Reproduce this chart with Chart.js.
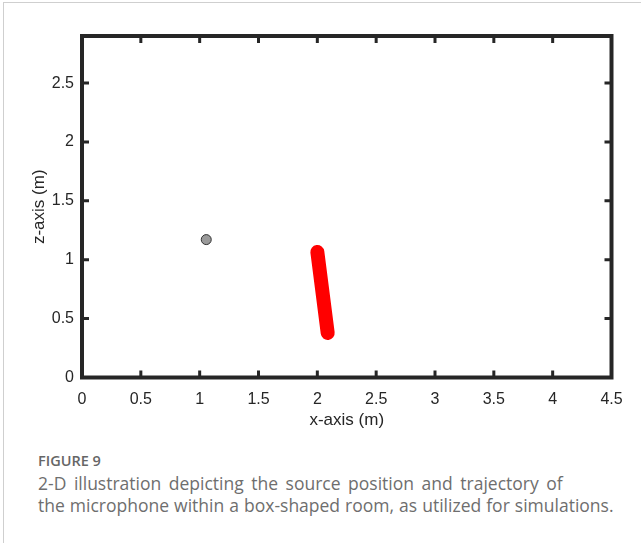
<!DOCTYPE html>
<html>
<head>
<meta charset="utf-8">
<script src="https://cdn.jsdelivr.net/npm/chart.js@4.4.1/dist/chart.umd.min.js"></script>
<style>
  body { margin: 0; background: #fff; width: 641px; height: 543px; overflow: hidden; position: relative; }
  #frame { position: absolute; left: 3px; top: 2px; width: 700px; height: 600px;
    border-top: 1px solid #cfcfcf; border-left: 1px solid #cfcfcf; }
  #wrap { position: absolute; left: 0; top: 0; width: 641px; height: 440px; }
  .cap { position: absolute; left: 38px; font-family: "Open Sans", sans-serif; color: #6e6e6e; white-space: nowrap; }
  #figno { top: 451px; font-size: 14.5px; font-weight: 600; color: #666; }
  #line1 { top: 471px; font-size: 17.5px; word-spacing: 3px; }
  #line2 { top: 493px; font-size: 17.5px; word-spacing: 0.5px; }
</style>
</head>
<body>
<div id="frame"></div>
<div id="wrap"><canvas id="roomChart" width="641" height="440"></canvas></div>
<div class="cap" id="figno">FIGURE 9</div>
<div class="cap" id="line1">2-D illustration depicting the source position and trajectory of</div>
<div class="cap" id="line2">the microphone within a box-shaped room, as utilized for simulations.</div>
<script>
// room limits (m)
const xRange = [0, 4.5];
const zRange = [0, 2.9];
const xTicks = [0, 0.5, 1, 1.5, 2, 2.5, 3, 3.5, 4, 4.5];
const zTicks = [0, 0.5, 1, 1.5, 2, 2.5];

// microphone trajectory (start / end) and source position
const trajX = [2.0, 2.088];
const trajZ = [1.066, 0.378];
const sourceX = [1.056];
const sourceZ = [1.171];

const ink = '#262626';
const tickFont = { family: 'Liberation Sans, Arial, sans-serif', size: 16 };
const titleFont = { family: 'Liberation Sans, Arial, sans-serif', size: 17 };

function toPoints(xs, ys) {
  return xs.map((x, i) => ({ x: x, y: ys[i] }));
}

// box around the plot with inward ticks on all four sides
const boxFrame = {
  id: 'boxFrame',
  afterDraw(chart) {
    const { ctx, chartArea: a, scales } = chart;
    ctx.save();
    ctx.strokeStyle = ink;
    ctx.lineWidth = 3;
    xTicks.forEach((v) => {
      const px = scales.x.getPixelForValue(v);
      ctx.beginPath();
      ctx.moveTo(px, a.bottom); ctx.lineTo(px, a.bottom - 7);
      ctx.moveTo(px, a.top); ctx.lineTo(px, a.top + 7);
      ctx.stroke();
    });
    zTicks.forEach((v) => {
      const py = scales.y.getPixelForValue(v);
      ctx.beginPath();
      ctx.moveTo(a.left, py); ctx.lineTo(a.left + 7, py);
      ctx.moveTo(a.right, py); ctx.lineTo(a.right - 7, py);
      ctx.stroke();
    });
    ctx.lineWidth = 4;
    ctx.strokeRect(a.left, a.top, a.right - a.left, a.bottom - a.top);
    ctx.restore();
  }
};

new Chart('roomChart', {
  type: 'scatter',
  data: {
    datasets: [
      {
        label: 'trajectory',
        data: toPoints(trajX, trajZ),
        showLine: true,
        borderColor: '#ff0000',
        backgroundColor: '#ff0000',
        borderWidth: 14,
        borderCapStyle: 'round',
        pointRadius: 0
      },
      {
        label: 'source',
        data: toPoints(sourceX, sourceZ),
        pointRadius: 5,
        backgroundColor: '#9a9a9a',
        borderColor: '#333',
        borderWidth: 1
      }
    ]
  },
  options: {
    responsive: false,
    animation: false,
    devicePixelRatio: 1,
    layout: { padding: { top: 36, right: 29.5, left: 0, bottom: 0 } },
    plugins: { legend: { display: false }, tooltip: { enabled: false } },
    scales: {
      x: {
        type: 'linear',
        min: xRange[0], max: xRange[1],
        grid: { display: false, drawTicks: false },
        border: { display: false },
        afterBuildTicks: (s) => { s.ticks = xTicks.map((v) => ({ value: v })); },
        afterFit: (s) => { s.height = 440 - 377.5; },
        ticks: { font: tickFont, color: ink, padding: 12, maxRotation: 0, callback: (v) => String(v) },
        title: { display: true, text: 'x-axis (m)', font: titleFont, color: ink, padding: { top: 0, bottom: 9 } }
      },
      y: {
        type: 'linear',
        min: zRange[0], max: zRange[1],
        grid: { display: false, drawTicks: false },
        border: { display: false },
        afterBuildTicks: (s) => { s.ticks = zTicks.map((v) => ({ value: v })); },
        afterFit: (s) => { s.width = 82; },
        ticks: { font: tickFont, color: ink, padding: 8, callback: (v) => String(v) },
        title: { display: true, text: 'z-axis (m)', font: titleFont, color: ink, padding: { top: 29, bottom: 0 } }
      }
    }
  },
  plugins: [boxFrame]
});
</script>
</body>
</html>
